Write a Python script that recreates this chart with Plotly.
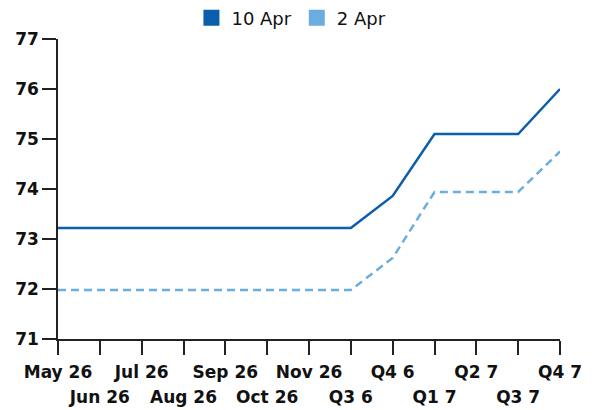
import plotly.graph_objects as go

categories = ["May 26", "Jun 26", "Jul 26", "Aug 26", "Sep 26", "Oct 26", "Nov 26",
              "Q3 6", "Q4 6", "Q1 7", "Q2 7", "Q3 7", "Q4 7"]
apr10 = [73.22, 73.22, 73.22, 73.22, 73.22, 73.22, 73.22, 73.22, 73.86, 75.10, 75.10, 75.10, 76.00]
apr2 = [71.98, 71.98, 71.98, 71.98, 71.98, 71.98, 71.98, 71.98, 72.62, 73.94, 73.94, 73.94, 74.75]
y_ticks = [71, 72, 73, 74, 75, 76, 77]

c_dark = "#0b5eab"
c_light = "#6aaee0"
FONT = "DejaVu Sans"

idx = list(range(len(categories)))

fig = go.Figure()
fig.add_trace(go.Scatter(x=idx, y=apr10, mode="lines", line=dict(color=c_dark, width=2.5),
                         showlegend=False))
fig.add_trace(go.Scatter(x=idx, y=apr2, mode="lines",
                         line=dict(color=c_light, width=2.5, dash="8px,5px"),
                         showlegend=False))
fig.add_trace(go.Scatter(x=[None], y=[None], mode="markers", name="10 Apr",
                         marker=dict(symbol="square", size=16, color=c_dark)))
fig.add_trace(go.Scatter(x=[None], y=[None], mode="markers", name="2 Apr",
                         marker=dict(symbol="square", size=16, color=c_light)))

even_text = [c if i % 2 == 0 else "" for i, c in enumerate(categories)]
odd_vals = [i for i in idx if i % 2 == 1]
odd_text = [categories[i] for i in odd_vals]

tf = dict(family=FONT, size=17, weight="bold", color="#111")

fig.update_layout(
    width=592, height=410,
    margin=dict(l=58, r=32, t=39, b=71, autoexpand=False),
    paper_bgcolor="white", plot_bgcolor="white",
    font=dict(family=FONT, size=17, color="#111"),
    showlegend=True,
    legend=dict(orientation="h", x=0.465, xanchor="center", y=1.07, yanchor="middle",
                font=dict(size=18, color="#111"), itemwidth=30, tracegroupgap=0,
                bgcolor="rgba(0,0,0,0)"),
    xaxis=dict(range=[0, 12], tickvals=idx, ticktext=even_text, automargin=False,
               showgrid=False, zeroline=False, showline=True, linecolor="#222", linewidth=1.5,
               ticks="outside", ticklen=14, tickcolor="#222", tickwidth=1.5,
               ticklabelstandoff=3, tickfont=tf),
    xaxis2=dict(range=[0, 12], overlaying="x", side="bottom", anchor="y", automargin=False,
                tickvals=odd_vals, ticktext=odd_text, ticks="", showline=False,
                showgrid=False, zeroline=False, ticklabelstandoff=46, tickfont=tf),
    yaxis=dict(range=[71, 77], tickvals=y_ticks, automargin=False,
               showgrid=False, zeroline=False, showline=True, linecolor="#222", linewidth=1.5,
               ticks="outside", ticklen=14, tickcolor="#222", tickwidth=1.5,
               tickfont=tf),
)
fig.add_trace(go.Scatter(x=[None], y=[None], xaxis="x2", showlegend=False))

fig.write_html("out.html", config={"displayModeBar": False},
               post_script="document.body.style.margin='0';document.body.style.overflow='hidden';")
